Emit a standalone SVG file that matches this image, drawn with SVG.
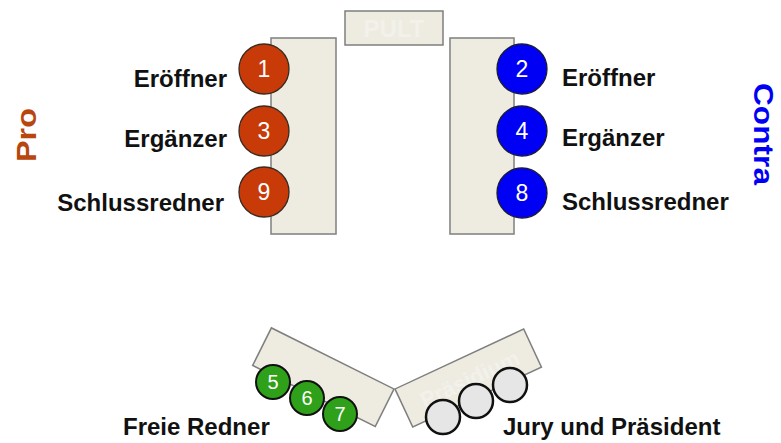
<svg xmlns="http://www.w3.org/2000/svg" width="781" height="443" viewBox="0 0 781 443">
<style>
.tbl{fill:#EEECE1;stroke:#7F7F7F;stroke-width:1.5}
.lbl{font-family:"Liberation Sans",Arial,sans-serif;font-weight:bold;font-size:24px;fill:#111}
.num{font-family:"Liberation Sans",Arial,sans-serif;font-size:23px;fill:#fff;text-anchor:middle}
.gnum{font-family:"Liberation Sans",Arial,sans-serif;font-size:20px;fill:#fff;text-anchor:middle}
.red{fill:#C83A08;stroke:#3a2a20;stroke-width:1.3}
.blue{fill:#0000F5;stroke:#1a1a3a;stroke-width:1.3}
.green{fill:#2FA01A;stroke:#111;stroke-width:2}
.gray{fill:#E6E6E6;stroke:#111;stroke-width:2.5}
.faint{font-family:"Liberation Sans",Arial,sans-serif;font-weight:bold;fill:#F2F1EB}
</style>
<rect width="781" height="443" fill="#fff"/>
<g id="pult">
<rect class="tbl" x="345" y="11" width="98" height="34"/>
<text class="faint" x="394" y="37" font-size="24" text-anchor="middle">PULT</text>
</g>
<g id="pro-table"><rect class="tbl" x="271" y="38" width="65" height="196"/></g>
<g id="contra-table"><rect class="tbl" x="450" y="38" width="64" height="196"/></g>
<g id="freie-table"><rect class="tbl" transform="translate(394,389) rotate(26.5)" x="-137" y="0" width="137" height="42"/></g>
<g id="jury-table">
<g transform="translate(395,389) rotate(-25)">
<rect class="tbl" x="0" y="0" width="142" height="42"/>
<text class="faint" x="72" y="30" font-size="22" text-anchor="middle">Präsidium</text>
</g>
</g>
<g id="pro-title"><text transform="translate(36,135) rotate(-90)" text-anchor="middle" font-family="'Liberation Sans',Arial,sans-serif" font-weight="bold" font-size="28" fill="#B8460E" textLength="54" lengthAdjust="spacingAndGlyphs">Pro</text></g>
<g id="contra-title"><text transform="translate(754,134) rotate(90)" text-anchor="middle" font-family="'Liberation Sans',Arial,sans-serif" font-weight="bold" font-size="27" fill="#0000F5" textLength="102" lengthAdjust="spacingAndGlyphs">Contra</text></g>
<g id="pro1"><circle class="red" cx="264" cy="69" r="25"/><text class="num" x="264" y="77">1</text><text class="lbl" x="227" y="87" text-anchor="end">Eröffner</text></g>
<g id="pro3"><circle class="red" cx="264" cy="131" r="25"/><text class="num" x="264" y="139">3</text><text class="lbl" x="227" y="147" text-anchor="end">Ergänzer</text></g>
<g id="pro9"><circle class="red" cx="264" cy="192" r="25"/><text class="num" x="264" y="200">9</text><text class="lbl" x="224" y="211" text-anchor="end">Schlussredner</text></g>
<g id="con2"><circle class="blue" cx="522" cy="69" r="25"/><text class="num" x="522" y="77">2</text><text class="lbl" x="562" y="86">Eröffner</text></g>
<g id="con4"><circle class="blue" cx="522" cy="131" r="25"/><text class="num" x="522" y="139">4</text><text class="lbl" x="562" y="146">Ergänzer</text></g>
<g id="con8"><circle class="blue" cx="522" cy="193" r="25"/><text class="num" x="522" y="201">8</text><text class="lbl" x="562" y="210">Schlussredner</text></g>
<g id="freie">
<circle class="green" cx="273" cy="382" r="17"/><text class="gnum" x="273" y="389">5</text>
<circle class="green" cx="307" cy="398" r="17"/><text class="gnum" x="307" y="405">6</text>
<circle class="green" cx="340" cy="414" r="17"/><text class="gnum" x="340" y="421">7</text>
<text class="lbl" x="123" y="435">Freie Redner</text>
</g>
<g id="jury">
<circle class="gray" cx="443" cy="417" r="17"/>
<circle class="gray" cx="476" cy="401" r="17"/>
<circle class="gray" cx="510" cy="385" r="17"/>
<text class="lbl" x="503" y="435">Jury und Präsident</text>
</g>
<g id="connectors"/>
</svg>
